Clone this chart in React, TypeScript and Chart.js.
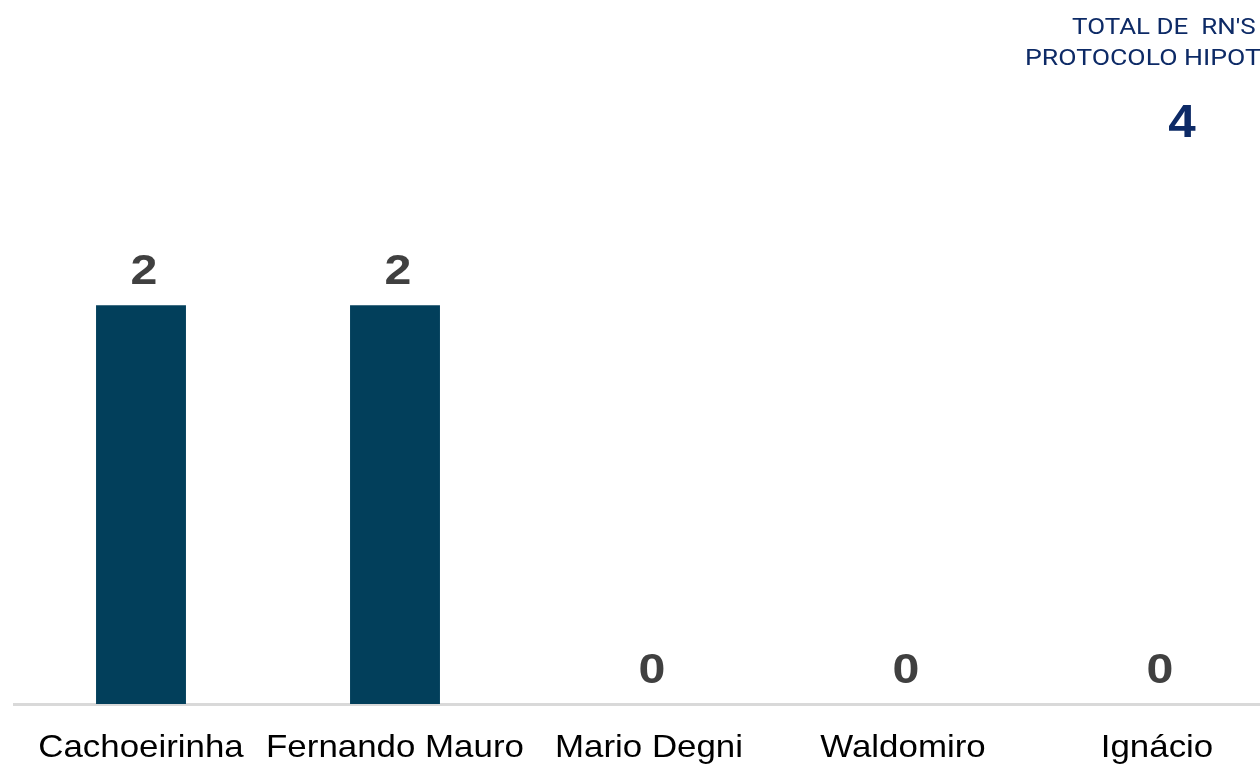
import React, { useEffect, useRef } from "react";
import { Chart, registerables } from "chart.js";

Chart.register(...registerables);

const categories = ["Cachoeirinha", "Fernando Mauro", "Mario Degni", "Waldomiro", "Ignácio"];
const values = [2, 2, 0, 0, 0];
const titleLines = ["TOTAL DE  RN'S", "PROTOCOLO HIPOTERMIA"];
const totalValue = "4";

function drawStretched(ctx: any, text: string, x: number, y: number, sx: number, align: string) {
  ctx.save();
  ctx.translate(x, y);
  ctx.scale(sx, 1);
  ctx.textAlign = align;
  ctx.textBaseline = "alphabetic";
  ctx.fillText(text, 0, 0);
  ctx.restore();
}

const labelPlugin = {
  id: "valueLabels",
  afterDatasetsDraw(chart: any) {
    const ctx = chart.ctx;
    const meta = chart.getDatasetMeta(0);
    ctx.save();
    ctx.font = "bold 42px 'Liberation Sans', Arial, sans-serif";
    ctx.fillStyle = "#404040";
    meta.data.forEach((bar: any, i: number) => {
      drawStretched(ctx, String(values[i]), bar.x + 3, bar.y - 21, 1.15, "center");
    });
    ctx.restore();
  },
};

const categoryPlugin = {
  id: "categoryLabels",
  afterDraw(chart: any) {
    const ctx = chart.ctx;
    const xScale = chart.scales.x;
    ctx.save();
    ctx.font = "32px 'Liberation Sans', Arial, sans-serif";
    ctx.fillStyle = "#000000";
    categories.forEach((c, i) => {
      drawStretched(ctx, c, xScale.getPixelForValue(i), chart.chartArea.bottom + 53, 1.09, "center");
    });
    ctx.restore();
  },
};

const titlePlugin = {
  id: "titleBlock",
  afterDraw(chart: any) {
    const ctx = chart.ctx;
    ctx.save();
    ctx.fillStyle = "#0d2a66";
    ctx.font = "22px Roboto, sans-serif";
    drawStretched(ctx, titleLines[0], 1072, 34, 1.18, "left");
    drawStretched(ctx, titleLines[1], 1025, 65, 1.21, "left");
    ctx.font = "bold 47px 'Liberation Sans', Arial, sans-serif";
    drawStretched(ctx, totalValue, 1182, 137, 1.05, "center");
    ctx.restore();
  },
};

export default function App() {
  const ref = useRef<HTMLCanvasElement | null>(null);
  useEffect(() => {
    if (!ref.current) return;
    const chart = new Chart(ref.current, {
      type: "bar",
      data: {
        labels: categories,
        datasets: [
          {
            data: values,
            backgroundColor: "#023f5b",
            categoryPercentage: 1,
            barPercentage: 0.354,
          },
        ],
      },
      options: {
        animation: false,
        responsive: false,
        maintainAspectRatio: false,
        layout: { padding: { left: 14, right: 16, top: 106, bottom: 0 } },
        plugins: { legend: { display: false }, tooltip: { enabled: false } },
        scales: {
          y: { display: false, min: 0, max: 3 },
          x: {
            grid: { display: false, drawTicks: false },
            border: { display: true, color: "#d9d9d9", width: 3 },
            ticks: { display: false },
            afterFit(scale: any) {
              scale.height = 61;
            },
          },
        },
      },
      plugins: [labelPlugin, categoryPlugin, titlePlugin],
    });
    return () => chart.destroy();
  }, []);
  return (
    <div style={{ position: "fixed", left: 0, top: 0, width: 1260, height: 765, overflow: "hidden", background: "#fff" }}>
      <canvas ref={ref} width={1300} height={765} style={{ display: "block" }} />
    </div>
  );
}
